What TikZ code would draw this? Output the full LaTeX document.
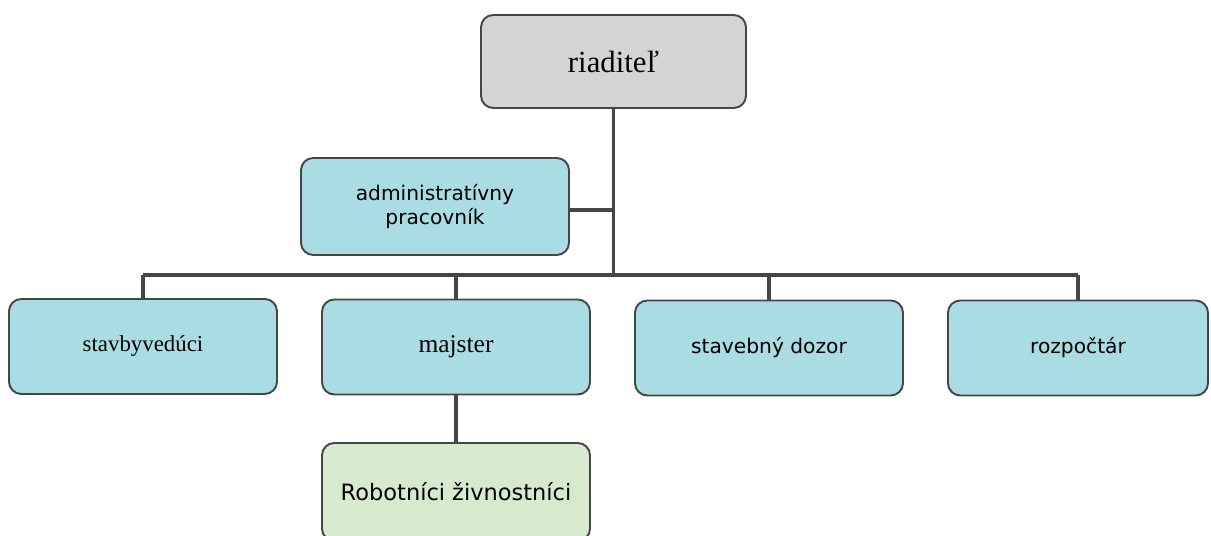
\documentclass[tikz,border=0pt]{standalone}
\usepackage{fontspec}
\setmainfont{Liberation Serif}
\newfontfamily\boxsans{DejaVu Sans}
\usetikzlibrary{positioning}

\definecolor{headgray}{RGB}{212,212,212}
\definecolor{staffblue}{RGB}{170,220,228}
\definecolor{workgreen}{RGB}{214,234,206}
\definecolor{edgegray}{RGB}{70,70,70}

\newcommand{\fsz}[1]{\fontsize{#1}{1.2\dimexpr#1pt\relax}\selectfont}

\begin{document}
\begin{tikzpicture}
    \tikzset{base/.style = {rectangle, rounded corners=7pt, draw=edgegray,
                           line width=1.1pt, inner sep=2pt,
                           minimum width=5.36cm, minimum height=1.9cm,
                           align=center, font=\fsz{11.5}}}
    \tikzset{head/.style = {base, fill=headgray, minimum width=5.3cm, minimum height=1.86cm}}
    \tikzset{staff/.style = {base, fill=staffblue}}
    \tikzset{worker/.style = {base, fill=workgreen, minimum height=1.96cm}}
    \tikzset{link/.style = {draw=edgegray, line width=2pt}}

    \useasboundingbox (0,0) rectangle (24.22,10.72);

    \node (dir) [head, font=\fsz{17.5}] at (12.27,9.49) {\raisebox{-3pt}{riaditeľ}};
    \node (admin) [staff, minimum height=1.94cm] at (8.70,6.59)
        {\boxsans administratívny\\\boxsans pracovník};
    \node (site) [staff, font=\fsz{13}] at (2.86,3.79) {stavbyvedúci};
    \node (fore) [staff, font=\fsz{14.5}] at (9.12,3.78) {majster};
    \node (super) [staff] at (15.38,3.76) {\boxsans stavebný dozor};
    \node (budget) [staff, minimum width=5.2cm] at (21.56,3.76) {\boxsans rozpočtár};
    \node (crew) [worker, font=\fsz{12.8}] at (9.12,0.88) {\boxsans Robotníci živnostníci};

    \coordinate (trunk) at (dir.south |- 0,5.22);
    \coordinate (tee) at (dir.south |- 0,6.52);
    \coordinate (bleft) at (site.north |- trunk);
    \coordinate (bright) at (budget.north |- trunk);

    \draw[link] (dir.south) -- (trunk);
    \draw[link] (admin.east |- tee) -- (tee);
    \draw[link] (bleft) -- (bright);
    \draw[link] (bleft) -- (site.north);
    \draw[link] (fore.north |- trunk) -- (fore.north);
    \draw[link] (super.north |- trunk) -- (super.north);
    \draw[link] (bright) -- (budget.north);
    \draw[link] (fore.south) -- (crew.north);

\end{tikzpicture}
\end{document}
